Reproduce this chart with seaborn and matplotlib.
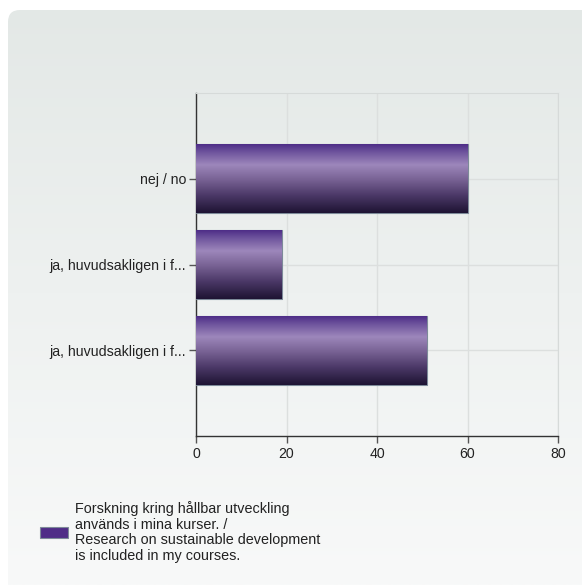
import numpy as np
import pandas as pd
import matplotlib
matplotlib.use("Agg")
import matplotlib.pyplot as plt
import seaborn as sns
from matplotlib.colors import LinearSegmentedColormap
from matplotlib.patches import FancyBboxPatch, Rectangle

# data
categories = ["nej / no", "ja, huvudsakligen i f...", "ja, huvudsakligen i f... "]
values = [60, 19, 51]
series_name = ("Forskning kring hållbar utveckling\nanvänds i mina kurser. /\n"
               "Research on sustainable development\nis included in my courses.")
x_ticks = [0, 20, 40, 60, 80]

df = pd.DataFrame({"category": categories, "value": values})

sns.set_style("white")
plt.rcParams["font.family"] = ["Liberation Sans", "DejaVu Sans"]

W, H = 582, 585
fig = plt.figure(figsize=(W / 100, H / 100), dpi=100)
fig.patch.set_facecolor("white")

# rounded grey panel behind the chart
bg = fig.add_axes([0, 0, 1, 1], zorder=-10)
bg.set_xlim(0, W)
bg.set_ylim(H, 0)
bg.axis("off")
panel = FancyBboxPatch((8, 10), W + 40, H + 40, boxstyle="round,pad=0,rounding_size=12",
                       facecolor="none", edgecolor="none")
bg.add_patch(panel)
panel_cmap = LinearSegmentedColormap.from_list("panel", ["#e3e8e6", "#eef1f0", "#f8f9f9"])
grad = np.linspace(0, 1, 256).reshape(-1, 1)
im = bg.imshow(grad, cmap=panel_cmap, extent=[0, W, H, 0], aspect="auto")
im.set_clip_path(panel)

# main chart
ax = fig.add_axes([196 / W, 1 - 436 / H, (558 - 196) / W, (436 - 93) / H])
ax.set_facecolor("none")
sns.barplot(data=df, x="value", y="category", orient="h", width=0.8,
            color="#4f2d87", edgecolor="#7d8a99", linewidth=0.8, ax=ax, zorder=3)

ax.set_xlim(0, 80)
ax.set_ylim(3, -1)
ax.set_xticks(x_ticks)
ax.set_yticks(range(len(categories)))
ax.set_yticklabels([c.strip() for c in categories])
ax.set_xlabel("")
ax.set_ylabel("")
ax.grid(True, color="#dcdfde", linewidth=1, zorder=0)
ax.set_axisbelow(True)
for side in ["top", "right"]:
    ax.spines[side].set_color("#d6dad9")
for side in ["left", "bottom"]:
    ax.spines[side].set_color("#333333")
    ax.spines[side].set_linewidth(1)
ax.tick_params(axis="both", which="both", length=5, width=1, color="#555555",
               labelsize=10.2, labelcolor="#222222", left=True, bottom=True)
ax.tick_params(axis="x", pad=3)
ax.tick_params(axis="y", pad=2)

# gradient fill for the bars
bar_cmap = LinearSegmentedColormap.from_list(
    "bar", [(0.0, "#4e2d87"), (0.1, "#6a4f9a"), (0.3, "#9d87bb"),
            (0.5, "#7b6597"), (0.75, "#4a3766"), (1.0, "#1e1433")])
for p in ax.patches:
    x0, y0 = p.get_x(), p.get_y()
    w, h = p.get_width(), p.get_height()
    g = ax.imshow(grad, cmap=bar_cmap, extent=[x0, x0 + w, y0 + h, y0],
                  aspect="auto", zorder=3.5, interpolation="bilinear")
    g.set_clip_path(p)
ax.set_xlim(0, 80)
ax.set_ylim(3, -1)

# legend
bg.add_patch(Rectangle((40, 527), 28, 11, facecolor="#4f2d87", edgecolor="#7d8a99", linewidth=0.8))
bg.text(75, 532, series_name, fontsize=10.4, color="#222222", va="center", ha="left",
        linespacing=1.15)

fig.savefig("out.png", dpi=100)
